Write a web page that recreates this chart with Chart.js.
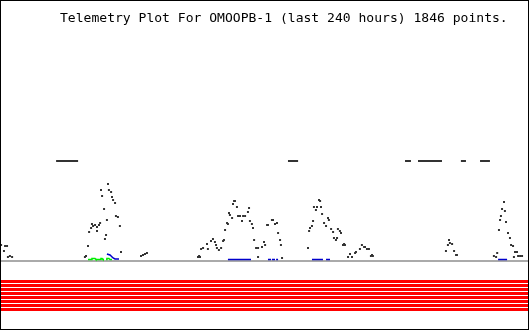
<!DOCTYPE html>
<html>
<head>
<meta charset="utf-8">
<script src="https://cdn.jsdelivr.net/npm/chart.js@4/dist/chart.umd.min.js"></script>
<style>
html, body { margin: 0; padding: 0; background: #fff; }
canvas { display: block; }
</style>
</head>
<body>
<canvas id="plot" width="530" height="330"></canvas>
<script>
const plotTitle = 'Telemetry Plot For OMOOPB-1 (last 240 hours) 1846 points.'

// main channel (dark dots), hours vs value
const mainHours = [
    0.5, 1.8, 2.3, 3.2, 3.6, 4.5, 5.5,
    38.6, 39.1, 40.0, 40.5, 41.4, 41.8, 42.3, 43.2, 44.1, 44.1, 45.0, 45.5, 45.9, 46.4, 47.3, 47.7,
    48.2, 48.6, 49.1, 49.5, 50.5, 50.9, 51.4, 52.3, 52.7, 53.6, 54.5, 55.0,
    64.1, 65.0, 65.9, 66.8,
    90.0, 90.5, 90.9, 91.4, 92.3, 94.1, 94.5, 95.9, 96.8, 97.7, 98.2, 98.6, 99.5, 100.5, 101.4, 101.8,
    102.3, 103.2, 103.6, 104.1, 104.5, 105.5, 105.9, 106.4, 106.8, 107.7, 108.2, 109.1, 110.0, 110.5,
    111.4, 112.7, 113.2, 113.6, 114.5, 115.0, 115.5, 116.4, 117.3, 117.3, 119.1, 120.0, 120.5, 121.4,
    121.8, 123.6, 124.1, 125.0, 125.9, 126.4, 127.3, 127.7, 128.2,
    140.0, 140.5, 140.9, 141.8, 142.3, 142.7, 143.6, 144.1, 145.0, 145.5, 145.9, 146.4, 147.3, 148.2,
    149.1, 149.5, 150.5, 151.4, 151.8, 152.7, 153.2, 153.6, 154.5, 155.0, 155.9, 156.4, 156.8,
    158.2, 159.1, 160.0, 161.4, 161.8, 163.6, 164.5, 165.5, 165.9, 166.8, 167.7, 168.6, 169.1, 169.5,
    202.7, 203.6, 204.1, 204.5, 205.5, 206.4, 207.3, 207.7,
    224.5, 225.5, 226.0, 226.8, 227.3, 227.7, 228.2, 229.1, 229.5, 230.0, 230.9, 231.8, 232.3, 233.2,
    233.6, 234.1, 235.0, 235.5, 236.4, 237.3
]
const mainValues = [
    16, 10, 15, 15, 4, 5, 4,
    4, 5, 15, 29, 33, 37, 35, 36, 34, 30, 36, 38, 71, 65, 52, 22,
    26, 41, 77, 71, 69, 64, 61, 58, 45, 44, 35, 9,
    5, 6, 7, 8,
    4, 5, 4, 12, 13, 17, 12, 20, 22, 19, 16, 13, 11, 13, 20, 21,
    31, 38, 37, 48, 46, 43, 57, 60, 60, 54, 45, 45, 40, 45,
    45, 49, 53, 40, 37, 33, 21, 13, 13, 4, 14, 19, 16, 36,
    36, 41, 41, 37, 38, 28, 21, 16, 3,
    13, 30, 33, 35, 40, 54, 51, 54, 61, 60, 54, 47, 38, 35,
    43, 41, 32, 29, 23, 21, 23, 32, 30, 28, 16, 17, 16,
    4, 7, 4, 8, 9, 12, 16, 14, 14, 12, 12, 5, 6, 5,
    10, 16, 21, 18, 17, 10, 6, 6,
    5, 4, 8, 31, 41, 45, 52, 59, 50, 39, 28, 23, 16, 15,
    4, 9, 9, 5, 5, 5
]

// flat runs of the main channel sitting at 100 (start hour, end hour)
const flatLevel = 100
const flatRuns = [[25.5, 35.5], [130.9, 135.5], [184.1, 186.8], [190.0, 200.9], [209.5, 211.8], [218.2, 222.7]]

// second channel (blue), null breaks the line
const blueHours = [48.6, 50.0, 51.4, 52.3, 54.1, 54.2,
    103.6, 114.1, 114.2, 121.8, 123.2, 123.3, 123.6, 125.0, 125.1, 125.5, 126.4, 126.5,
    141.8, 146.8, 146.9, 148.2, 150.0, 150.1, 226.4, 230.5]
const blueValues = [7, 6, 3, 2, 2, null,
    1.5, 1.5, null, 1.5, 1.5, null, 1.5, 1.5, null, 1.5, 1.5, null,
    1.5, 1.5, null, 1.5, 1.5, null, 1.5, 1.5]

// third channel (green)
const greenHours = [40.0, 41.4, 41.8, 43.2, 43.6, 45.5, 45.9, 46.4, 46.8, 47.3, 47.4, 48.2, 48.6, 49.5, 50.0, 50.9]
const greenValues = [1.5, 1.5, 2.5, 2.5, 1.5, 1.5, 2.5, 2.5, 1.5, 1.5, null, 1.5, 2.5, 2.5, 1.5, 1.5]

// status flag rows drawn under the plot
const flagLevels = [-20.5, -24.5, -28.5, -32.5, -36.5, -40.5, -44.5, -48.5]

const toPoints = (xs, ys) => xs.map((x, i) => ({ x: x, y: ys[i] }))

const flatPoints = []
flatRuns.forEach(run => {
    flatPoints.push({ x: run[0], y: flatLevel }, { x: run[1], y: flatLevel }, { x: run[1], y: null })
})

const lineSet = (data, color, width, order) => ({
    data: data,
    showLine: true,
    borderColor: color,
    borderWidth: width,
    borderCapStyle: 'butt',
    pointRadius: 0,
    spanGaps: false,
    order: order
})

const datasets = [
    {
        data: toPoints(mainHours, mainValues),
        pointStyle: 'rect',
        pointRadius: Math.SQRT2,
        pointBorderWidth: 0,
        backgroundColor: '#333333',
        order: 0
    },
    lineSet(flatPoints, '#333333', 2, 1),
    lineSet(toPoints(blueHours, blueValues), '#0000cc', 1.5, 2),
    lineSet(toPoints(greenHours, greenValues), '#00ee00', 1.5, 3),
    lineSet([{ x: 0, y: 0 }, { x: 240, y: 0 }], '#aaaaaa', 2, 4)
]
flagLevels.forEach(level => {
    datasets.push(lineSet([{ x: 0, y: level }, { x: 240, y: level }], '#ff0000', 3, 5))
})

const frame = {
    id: 'frame',
    afterDraw(chart) {
        const c = chart.ctx
        c.save()
        c.fillStyle = '#000'
        // title spans x 60..508 in the original
        c.font = '13px "DejaVu Sans Mono", monospace'
        const size = 13 * 448 / c.measureText(plotTitle).width
        c.font = size.toFixed(2) + 'px "DejaVu Sans Mono", monospace'
        c.textBaseline = 'alphabetic'
        c.fillText(plotTitle, 60, 22)
        c.strokeStyle = '#000'
        c.lineWidth = 1
        c.strokeRect(0.5, 0.5, 528, 329)
        c.restore()
    }
}

new Chart(document.getElementById('plot'), {
    type: 'scatter',
    data: { datasets: datasets },
    options: {
        responsive: false,
        animation: false,
        events: [],
        layout: { autoPadding: false, padding: { left: 0, right: 2, top: 0, bottom: 0 } },
        plugins: { legend: { display: false }, tooltip: { enabled: false } },
        scales: {
            x: { type: 'linear', min: 0, max: 240, display: false },
            y: { type: 'linear', min: -69, max: 261, display: false }
        }
    },
    plugins: [frame]
})
</script>
</body>
</html>
